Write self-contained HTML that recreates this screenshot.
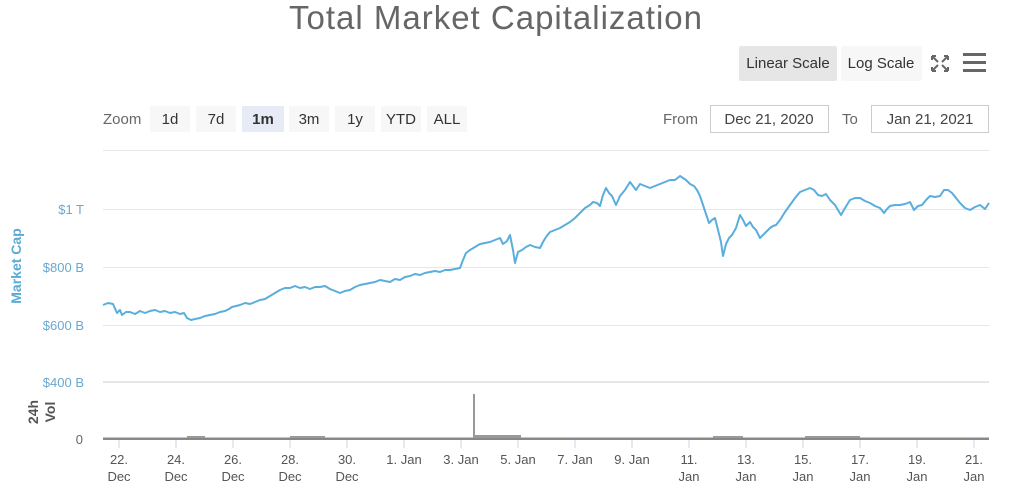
<!DOCTYPE html>
<html><head><style>
body{margin:0;width:1009px;height:499px;background:#fff;font-family:"Liberation Sans",sans-serif;overflow:hidden}
</style></head><body>
<svg width="1009" height="499" xmlns="http://www.w3.org/2000/svg" font-family="Liberation Sans, sans-serif">
<text x="496" y="29" text-anchor="middle" font-size="33" letter-spacing="1" fill="#666">Total Market Capitalization</text>
<rect x="739" y="46" width="98" height="35" rx="2" fill="#e6e6e6"/>
<text x="788" y="68" text-anchor="middle" font-size="15" fill="#333">Linear Scale</text>
<rect x="841" y="46" width="81" height="35" rx="2" fill="#f7f7f7"/>
<text x="881" y="68" text-anchor="middle" font-size="15" fill="#333">Log Scale</text>
<g stroke="#666" stroke-width="2" fill="none">
<path d="M932 56l6 6M932 56h4M932 56v4M948 56l-6 6M948 56h-4M948 56v4M932 71l6-6M932 71h4M932 71v-4M948 71l-6-6M948 71h-4M948 71v-4"/>
</g>
<g fill="#666"><rect x="963" y="53" width="23" height="3"/><rect x="963" y="61" width="23" height="3"/><rect x="963" y="69" width="23" height="3"/></g>
<g font-size="15" fill="#333">
<text x="103" y="124" fill="#666">Zoom</text>
<rect x="150" y="106" width="40" height="26" fill="#f7f7f7"/><text x="170" y="124" text-anchor="middle">1d</text>
<rect x="196" y="106" width="40" height="26" fill="#f7f7f7"/><text x="216" y="124" text-anchor="middle">7d</text>
<rect x="242" y="106" width="42" height="26" fill="#e6ebf5"/><text x="263" y="124" text-anchor="middle" font-weight="bold">1m</text>
<rect x="289" y="106" width="40" height="26" fill="#f7f7f7"/><text x="309" y="124" text-anchor="middle">3m</text>
<rect x="335" y="106" width="40" height="26" fill="#f7f7f7"/><text x="355" y="124" text-anchor="middle">1y</text>
<rect x="381" y="106" width="40" height="26" fill="#f7f7f7"/><text x="401" y="124" text-anchor="middle">YTD</text>
<rect x="427" y="106" width="40" height="26" fill="#f7f7f7"/><text x="447" y="124" text-anchor="middle">ALL</text>
<text x="663" y="124" fill="#666">From</text>
<rect x="710.5" y="105.5" width="118" height="27" fill="#fff" stroke="#ccc"/><text x="769" y="124" text-anchor="middle" fill="#444">Dec 21, 2020</text>
<text x="842" y="124" fill="#666">To</text>
<rect x="871.5" y="105.5" width="117" height="27" fill="#fff" stroke="#ccc"/><text x="930" y="124" text-anchor="middle" fill="#444">Jan 21, 2021</text>
</g>
<g stroke="#e6e6e6" stroke-width="1">
<line x1="103" y1="150.5" x2="989" y2="150.5"/>
<line x1="103" y1="209.5" x2="989" y2="209.5"/>
<line x1="103" y1="267.5" x2="989" y2="267.5"/>
<line x1="103" y1="325.5" x2="989" y2="325.5"/>
</g>
<rect x="103" y="381" width="886" height="2" fill="#e6e6e6"/>
<g font-size="13" fill="#6aa8d0" text-anchor="end">
<text x="84" y="214">$1 T</text><text x="84" y="272">$800 B</text><text x="84" y="330">$600 B</text><text x="84" y="387">$400 B</text>
</g>
<text x="83" y="444" font-size="13" fill="#666" text-anchor="end">0</text>
<text transform="translate(21,266) rotate(-90)" text-anchor="middle" font-size="14" font-weight="bold" fill="#5aaad6">Market Cap</text>
<text transform="translate(38,412) rotate(-90)" text-anchor="middle" font-size="14" font-weight="bold" fill="#555">24h</text>
<text transform="translate(55,412) rotate(-90)" text-anchor="middle" font-size="14" font-weight="bold" fill="#555">Vol</text>
<polyline fill="none" stroke="#5aaedd" stroke-width="2" stroke-linejoin="round" points="103,305 108,303 113,304 117,313 120,310 122,315 126,312 130,312 135,314 140,311 145,313 150,311 155,310 160,312 165,311 170,313 175,312 180,314 184,313 187,318 191,320 195,319 200,318 205,316 210,315 215,314 220,312 225,311 229,309 232,307 236,306 240,305 245,303 250,304 255,302 260,300 265,299 270,296 275,293 280,290 285,288 290,288 295,286 300,288 305,287 310,289 315,287 320,287 325,286 330,289 335,291 340,293 345,291 350,290 355,287 360,285 365,284 370,283 375,282 380,280 385,281 390,282 395,279 400,280 405,277 410,276 415,274 420,275 425,273 430,272 435,271 440,272 445,270 450,270 455,269 460,268 463,260 466,253 470,250 475,247 480,244 485,243 490,242 495,240 500,238 503,244 507,241 510,235 513,250 515,263 518,252 522,250 526,247 530,245 535,247 540,248 543,242 546,237 550,232 555,230 560,228 565,225 570,222 575,218 580,213 585,208 590,205 593,202 597,203 600,206 603,195 606,188 609,193 612,196 616,205 620,196 625,190 630,182 633,186 636,190 640,184 645,186 650,188 655,186 660,184 665,182 670,180 675,180 680,176 683,178 686,180 690,184 694,186 697,190 700,196 703,205 706,214 709,223 712,220 715,218 718,230 721,242 723,256 726,244 729,238 732,235 736,228 740,215 743,220 746,226 750,222 753,227 756,230 760,238 763,235 766,232 770,228 773,226 776,225 780,220 785,212 790,205 795,198 800,192 805,190 810,188 814,190 818,195 822,196 826,194 830,200 835,205 838,210 841,215 845,208 850,200 855,198 860,198 865,201 870,203 875,206 880,208 884,213 887,209 890,206 895,205 900,205 905,204 910,202 914,210 918,206 922,205 926,200 930,196 935,197 940,196 944,190 948,190 952,193 956,198 960,203 965,208 970,210 975,207 980,205 985,209 989,203"/>
<rect x="103" y="437.5" width="886" height="2.5" fill="#888"/>
<g fill="#999">
<rect x="187" y="436" width="18" height="2"/><rect x="290" y="436" width="35" height="2"/>
<rect x="473" y="394" width="2" height="44"/><rect x="473" y="435" width="48" height="3"/>
<rect x="713" y="436" width="30" height="2"/><rect x="805" y="436" width="55" height="2"/>
</g>
<g stroke="#ccd6eb"><line x1="119" y1="440" x2="119" y2="448"/><line x1="176" y1="440" x2="176" y2="448"/><line x1="233" y1="440" x2="233" y2="448"/><line x1="290" y1="440" x2="290" y2="448"/><line x1="347" y1="440" x2="347" y2="448"/><line x1="404" y1="440" x2="404" y2="448"/><line x1="461" y1="440" x2="461" y2="448"/><line x1="518" y1="440" x2="518" y2="448"/><line x1="575" y1="440" x2="575" y2="448"/><line x1="632" y1="440" x2="632" y2="448"/><line x1="689" y1="440" x2="689" y2="448"/><line x1="746" y1="440" x2="746" y2="448"/><line x1="803" y1="440" x2="803" y2="448"/><line x1="860" y1="440" x2="860" y2="448"/><line x1="917" y1="440" x2="917" y2="448"/><line x1="974" y1="440" x2="974" y2="448"/></g>
<g font-size="13" fill="#555" text-anchor="middle">
<text x="119" y="464">22.</text><text x="119" y="481">Dec</text>
<text x="176" y="464">24.</text><text x="176" y="481">Dec</text>
<text x="233" y="464">26.</text><text x="233" y="481">Dec</text>
<text x="290" y="464">28.</text><text x="290" y="481">Dec</text>
<text x="347" y="464">30.</text><text x="347" y="481">Dec</text>
<text x="404" y="464">1. Jan</text><text x="461" y="464">3. Jan</text><text x="518" y="464">5. Jan</text>
<text x="575" y="464">7. Jan</text><text x="632" y="464">9. Jan</text>
<text x="689" y="464">11.</text><text x="689" y="481">Jan</text>
<text x="746" y="464">13.</text><text x="746" y="481">Jan</text>
<text x="803" y="464">15.</text><text x="803" y="481">Jan</text>
<text x="860" y="464">17.</text><text x="860" y="481">Jan</text>
<text x="917" y="464">19.</text><text x="917" y="481">Jan</text>
<text x="974" y="464">21.</text><text x="974" y="481">Jan</text>
</g>
</svg>
</body></html>
